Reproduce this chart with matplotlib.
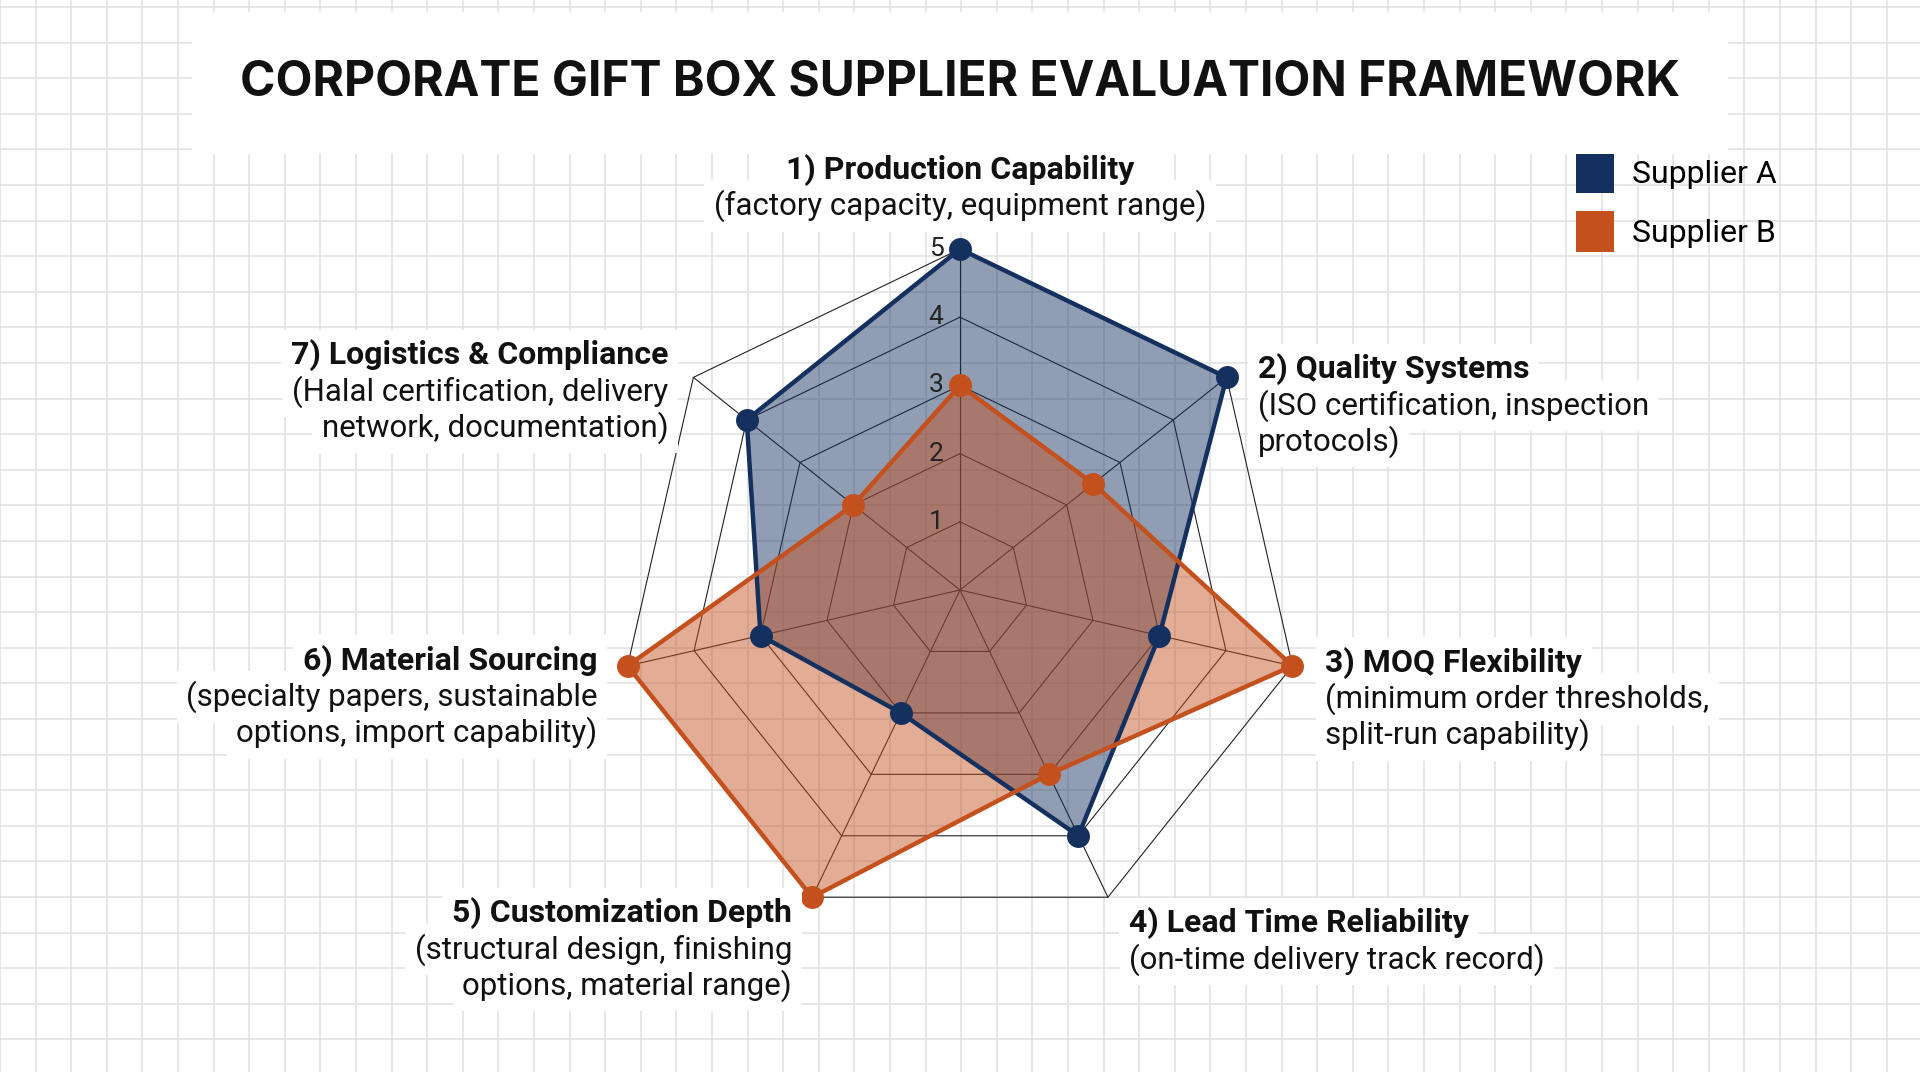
import numpy as np
import matplotlib.pyplot as plt
from matplotlib.patches import Patch

plt.rcParams['font.family'] = ['Roboto', 'DejaVu Sans']

title = "CORPORATE GIFT BOX SUPPLIER EVALUATION FRAMEWORK"
categories = ["1) Production Capability", "2) Quality Systems", "3) MOQ Flexibility",
              "4) Lead Time Reliability", "5) Customization Depth",
              "6) Material Sourcing", "7) Logistics & Compliance"]
details = [["(factory capacity, equipment range)"],
           ["(ISO certification, inspection", "protocols)"],
           ["(minimum order thresholds,", "split-run capability)"],
           ["(on-time delivery track record)"],
           ["(structural design, finishing", "options, material range)"],
           ["(specialty papers, sustainable", "options, import capability)"],
           ["(Halal certification, delivery", "network, documentation)"]]
supplier_a = [5, 5, 3, 4, 2, 3, 4]
supplier_b = [3, 2.5, 5, 3, 5, 5, 2]
levels = [1, 2, 3, 4, 5]

navy = "#14305f"
orange = "#c4501e"

W, H = 1920, 1072
fig = plt.figure(figsize=(W / 100, H / 100), dpi=100)

# graph-paper background
bg = fig.add_axes([0, 0, 1, 1], zorder=0)
bg.set_xlim(0, W)
bg.set_ylim(H, 0)
bg.axis('off')
step = 35.6
for gx in np.arange(0, W + step, step):
    bg.axvline(gx, color="#e0e0e0", lw=1.1)
for gy in np.arange(7, H + step, step):
    bg.axhline(gy, color="#e0e0e0", lw=1.1)

# radar axes: centre at (960, 590) px, 68.2 px per score unit
unit = 68.2
ax = fig.add_axes([0, 0, 1, 1], zorder=1)
ax.set_facecolor("none")
ax.set_xlim(-960 / unit, (W - 960) / unit)
ax.set_ylim(-(H - 590) / unit, 590 / unit)
ax.set_aspect('equal')
ax.axis('off')

n = len(categories)
theta = 2 * np.pi * np.arange(n) / n
sx, cy = np.sin(theta), np.cos(theta)

def closed(v):
    v = np.asarray(v, dtype=float)
    return np.append(v * sx, v[0] * sx[0]), np.append(v * cy, v[0] * cy[0])

# web
for lv in levels:
    px, py = closed([lv] * n)
    ax.plot(px, py, color="#222222", lw=0.8, zorder=2)
for k in range(n):
    ax.plot([0, levels[-1] * sx[k]], [0, levels[-1] * cy[k]], color="#222222", lw=0.8, zorder=2)
for lv in levels:
    ax.annotate(str(lv), xy=(0, lv), xytext=(-24, 0), textcoords='offset pixels',
                ha='center', va='center', fontsize=19, color="#222222", zorder=6)

# series
for vals, col in [(supplier_a, navy), (supplier_b, orange)]:
    px, py = closed(vals)
    ax.fill(px, py, color=col, alpha=0.47, lw=0, zorder=3)
    ax.plot(px, py, color=col, lw=3.2, zorder=4)
    ax.plot(px[:-1], py[:-1], 'o', color=col, ms=15.5, zorder=5)

# axis labels: (ha, dx, dy) in pixels from the outer vertex
place = [('center', 0, 79), ('left', 31, 8), ('left', 33, 3), ('left', 21, -26),
         ('right', -20, -16), ('right', -30, 5), ('right', -25, 22)]
pitch = 36
box = dict(boxstyle="square,pad=0.3", fc="white", ec="none")
for k in range(n):
    ha, dx, dy = place[k]
    lines = [categories[k]] + details[k]
    for i, line in enumerate(lines):
        kw = dict(xy=(5 * sx[k], 5 * cy[k]), xytext=(dx, dy - pitch * i),
                  textcoords='offset pixels', ha=ha, va='center',
                  fontsize=23 if i == 0 else 22.5,
                  fontweight='bold' if i == 0 else 'normal')
        # white backing first, text on top so boxes never clip descenders
        ax.annotate(line, color='none', bbox=box, zorder=6.5, **kw)
        ax.annotate(line, color="#111111", zorder=7, **kw)

fig.text(0.5, 1 - 83 / H, title, ha='center', va='center', fontsize=34.5,
         fontweight='bold', family=['Inter', 'DejaVu Sans'], color="#111111",
         bbox=dict(boxstyle="square,pad=1.0", fc="white", ec="none"), zorder=8)

handles = [Patch(facecolor=navy, edgecolor='none', label="Supplier A"),
           Patch(facecolor=orange, edgecolor='none', label="Supplier B")]
fig.legend(handles=handles, loc='upper left', bbox_to_anchor=(1576 / W, 1 - 152 / H),
           frameon=False, fontsize=23, handlelength=1.2, handleheight=1.6,
           handletextpad=0.55, labelspacing=0.55, borderpad=0, borderaxespad=0)

fig.savefig("out.png", dpi=100)
